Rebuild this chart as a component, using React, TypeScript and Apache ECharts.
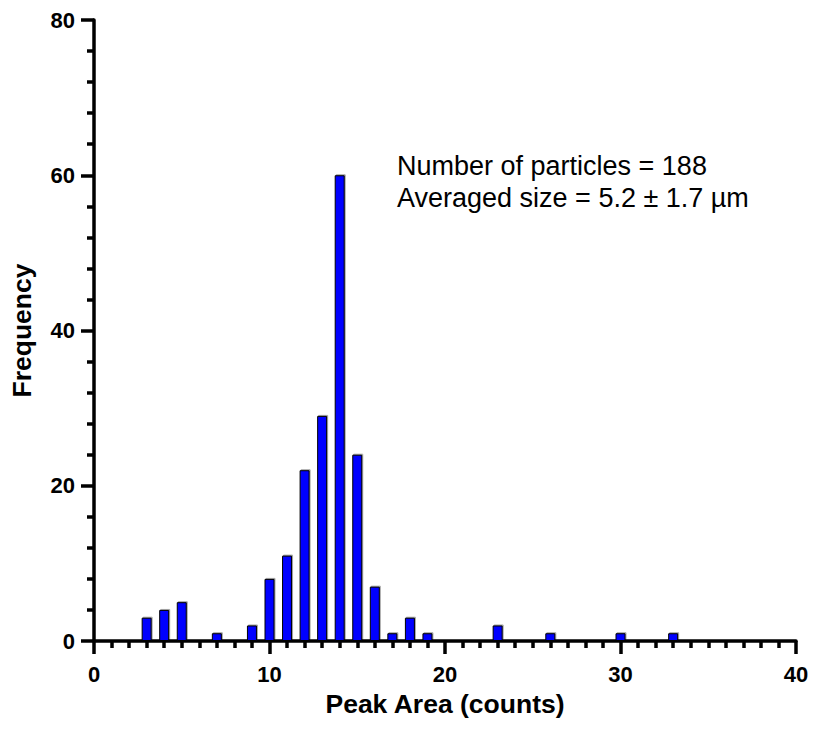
import React, { useEffect, useRef } from "react";
import * as echarts from "echarts";

const bins = [3, 4, 5, 7, 9, 10, 11, 12, 13, 14, 15, 16, 17, 18, 19, 23, 26, 30, 33];
const counts = [3, 4, 5, 1, 2, 8, 11, 22, 29, 60, 24, 7, 1, 3, 1, 2, 1, 1, 1];
const xTitle = "Peak Area (counts)";
const yTitle = "Frequency";
const noteLines = ["Number of particles = 188", "Averaged size = 5.2 ± 1.7 µm"];

const FONT = "'Liberation Sans', Arial, Helvetica, sans-serif";

export default function App() {
  const ref = useRef<HTMLDivElement>(null);
  useEffect(() => {
    document.body.style.margin = "0";
    if (!ref.current) return;
    const chart = echarts.init(ref.current, null, { renderer: "svg" });
    const axisCommon = {
      axisLine: { show: true, lineStyle: { color: "#000", width: 3.5 } },
      axisTick: { show: true, length: 13, lineStyle: { color: "#000", width: 3.5 } },
      splitLine: { show: false },
      minorSplitLine: { show: false },
      nameTextStyle: { color: "#000", fontFamily: FONT, fontWeight: "bold", fontSize: 26.5 },
    };
    chart.setOption({
      animation: false,
      backgroundColor: "#fff",
      grid: { left: 92, right: 17, top: 20, bottom: 88, containLabel: false },
      xAxis: {
        type: "value",
        min: 0,
        max: 40,
        interval: 10,
        ...axisCommon,
        minorTick: { show: true, splitNumber: 10, length: 7, lineStyle: { color: "#000", width: 3.5 } },
        axisLabel: { color: "#000", fontFamily: FONT, fontWeight: "bold", fontSize: 22, margin: 22 },
        name: xTitle,
        nameLocation: "middle",
        nameGap: 49,
      },
      yAxis: {
        type: "value",
        min: 0,
        max: 80,
        interval: 20,
        ...axisCommon,
        minorTick: { show: true, splitNumber: 5, length: 7, lineStyle: { color: "#000", width: 3.5 } },
        axisLabel: { color: "#000", fontFamily: FONT, fontWeight: "bold", fontSize: 22, margin: 19 },
        name: yTitle,
        nameLocation: "middle",
        nameGap: 59,
      },
      series: [
        {
          type: "bar",
          data: bins.map((b, i) => [b, counts[i]]),
          barWidth: 10,
          itemStyle: {
            color: "#0000ff",
            borderColor: "#000",
            borderWidth: 1,
            shadowColor: "rgba(0,0,0,0.35)",
            shadowOffsetX: 1,
            shadowOffsetY: -1,
            shadowBlur: 0,
          },
          z: 1,
        },
      ],
      graphic: [
        {
          type: "text",
          left: 397,
          top: 150,
          style: {
            text: noteLines.join("\n"),
            fill: "#000",
            fontFamily: FONT,
            fontSize: 27,
            lineHeight: 32,
          },
        },
      ],
    });
    return () => chart.dispose();
  }, []);
  return <div ref={ref} style={{ width: 813, height: 729 }} />;
}
